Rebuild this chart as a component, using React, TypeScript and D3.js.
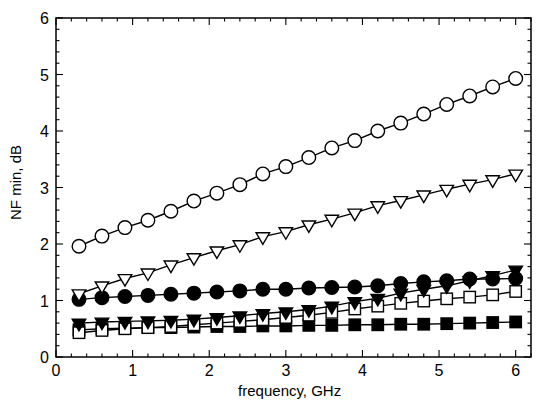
import { useEffect } from 'react'
import * as d3 from 'd3'

// frequency points, GHz
const freq = [0.3, 0.6, 0.9, 1.2, 1.5, 1.8, 2.1, 2.4, 2.7, 3.0, 3.3, 3.6, 3.9, 4.2, 4.5, 4.8, 5.1, 5.4, 5.7, 6.0]

// NF min, dB
const openCircle = [1.96, 2.14, 2.29, 2.42, 2.58, 2.76, 2.9, 3.05, 3.24, 3.37, 3.53, 3.7, 3.83, 4.0, 4.14, 4.3, 4.47, 4.62, 4.78, 4.93]
const openTriangle = [1.12, 1.26, 1.39, 1.49, 1.63, 1.76, 1.88, 1.99, 2.13, 2.22, 2.34, 2.44, 2.55, 2.68, 2.77, 2.87, 2.97, 3.06, 3.14, 3.24]
const filledCircle = [1.02, 1.05, 1.07, 1.09, 1.11, 1.13, 1.15, 1.17, 1.2, 1.2, 1.22, 1.23, 1.24, 1.26, 1.3, 1.33, 1.35, 1.38, 1.38, 1.39]
const filledTriangle = [0.6, 0.62, 0.63, 0.64, 0.65, 0.67, 0.7, 0.73, 0.77, 0.8, 0.84, 0.9, 0.98, 1.04, 1.13, 1.2, 1.26, 1.35, 1.44, 1.54]
const openSquare = [0.43, 0.47, 0.5, 0.52, 0.54, 0.57, 0.6, 0.63, 0.66, 0.7, 0.74, 0.79, 0.85, 0.9, 0.95, 0.99, 1.03, 1.06, 1.1, 1.16]
const filledSquare = [0.48, 0.5, 0.51, 0.52, 0.52, 0.53, 0.54, 0.54, 0.55, 0.55, 0.56, 0.56, 0.57, 0.57, 0.58, 0.58, 0.59, 0.6, 0.61, 0.62]

const xTicks = [0, 1, 2, 3, 4, 5, 6]
const yTicks = [0, 1, 2, 3, 4, 5, 6]

const series = [
  { name: 'fsq', values: filledSquare, shape: 'square', fill: 'black' },
  { name: 'osq', values: openSquare, shape: 'square', fill: 'white' },
  { name: 'ftri', values: filledTriangle, shape: 'tri', fill: 'black' },
  { name: 'fcir', values: filledCircle, shape: 'circle', fill: 'black' },
  { name: 'otri', values: openTriangle, shape: 'tri', fill: 'white' },
  { name: 'ocir', values: openCircle, shape: 'circle', fill: 'white' },
]

const margin = { top: 18, right: 6, bottom: 44, left: 56 }
const width = 537
const height = 401
const innerWidth = width - margin.left - margin.right
const innerHeight = height - margin.top - margin.bottom

const font = '"Liberation Sans", Arial, Helvetica, sans-serif'

const App = () => {
  useEffect(() => {
    document.body.style.margin = '0'
  }, [])

  const x = d3.scaleLinear().domain([0, 6.2]).range([0, innerWidth])
  const y = d3.scaleLinear().domain([0, 6]).range([innerHeight, 0])

  const minorX = d3.range(0, 6.21, 0.2)
  const minorY = d3.range(0, 6.01, 0.2)

  const line = d3
    .line<number>()
    .x((d, i) => x(freq[i]))
    .y((d) => y(d))

  const marker = (shape: string, fill: string, cx: number, cy: number, key: number) => {
    const common = { fill, stroke: 'black', strokeWidth: 1.4 }
    if (shape === 'circle') return <circle key={key} cx={cx} cy={cy} r={6.8} {...common} />
    if (shape === 'square') return <rect key={key} x={cx - 5.7} y={cy - 5.7} width={11.4} height={11.4} {...common} />
    // downward triangle
    const h = 11.5
    const w = 13.5
    const pts = `${cx - w / 2},${cy - h / 3} ${cx + w / 2},${cy - h / 3} ${cx},${cy + (2 * h) / 3}`
    return <polygon key={key} points={pts} {...common} />
  }

  return (
    <svg width={width} height={height} style={{ display: 'block', background: 'white' }}>
      <g transform={`translate(${margin.left},${margin.top})`}>
        <rect x={0} y={0} width={innerWidth} height={innerHeight} fill="none" stroke="black" strokeWidth={1.5} />
        {minorX.map((t, i) => {
          const major = Math.abs(t - Math.round(t)) < 1e-6
          const len = major ? 7 : 3.5
          return (
            <g key={'mx' + i}>
              <line x1={x(t)} x2={x(t)} y1={innerHeight} y2={innerHeight - len} stroke="black" strokeWidth={1.1} />
              <line x1={x(t)} x2={x(t)} y1={0} y2={len} stroke="black" strokeWidth={1.1} />
            </g>
          )
        })}
        {minorY.map((t, i) => {
          const major = Math.abs(t - Math.round(t)) < 1e-6
          const len = major ? 7 : 3.5
          return (
            <g key={'my' + i}>
              <line x1={0} x2={len} y1={y(t)} y2={y(t)} stroke="black" strokeWidth={1.1} />
              <line x1={innerWidth} x2={innerWidth - len} y1={y(t)} y2={y(t)} stroke="black" strokeWidth={1.1} />
            </g>
          )
        })}
        {xTicks.map((t) => (
          <text key={'xt' + t} x={x(t)} y={innerHeight + 19} textAnchor="middle" fontFamily={font} fontSize={16}>
            {t}
          </text>
        ))}
        {yTicks.map((t) => (
          <text key={'yt' + t} x={-7} y={y(t) + 6} textAnchor="end" fontFamily={font} fontSize={16}>
            {t}
          </text>
        ))}
        <text x={x(3.05)} y={innerHeight + 39} textAnchor="middle" fontFamily={font} fontSize={15}>
          frequency, GHz
        </text>
        <text
          transform={`translate(${-35},${innerHeight / 2 - 5}) rotate(-90)`}
          textAnchor="middle"
          fontFamily={font}
          fontSize={15}
        >
          NF min, dB
        </text>
        {series.map((s) => (
          <g key={s.name}>
            <path d={line(s.values) || ''} fill="none" stroke="black" strokeWidth={1.4} />
            {s.values.map((v, i) => marker(s.shape, s.fill, x(freq[i]), y(v), i))}
          </g>
        ))}
      </g>
    </svg>
  )
}

export default App
